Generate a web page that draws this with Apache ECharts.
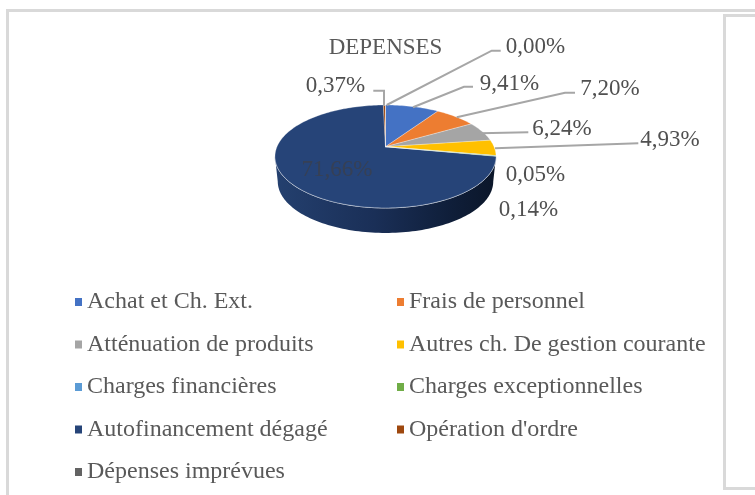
<!DOCTYPE html>
<html>
<head>
<meta charset="utf-8">
<style>html,body{margin:0;padding:0;background:#fff}#c{width:755px;height:495px;filter:blur(0.45px)}</style>
<script src="https://cdn.jsdelivr.net/npm/echarts@6/dist/echarts.min.js"></script>
</head>
<body>
<div id="c"></div>
<script>
const categories = ["Achat et Ch. Ext.","Frais de personnel","Atténuation de produits","Autres ch. De gestion courante","Charges financières","Charges exceptionnelles","Autofinancement dégagé","Opération d'ordre","Dépenses imprévues"];
const values = [9.41,7.20,6.24,4.93,0.05,0.14,71.66,0.37,0.00];
const colors = ["#4472C4","#ED7D31","#A5A5A5","#FFC000","#5B9BD5","#70AD47","#264478","#9E480E","#636363"];
const leftLegend = [0,2,4,6,8].map(i=>categories[i]);
const rightLegend = [1,3,5,7].map(i=>categories[i]);

// Layout (not data)
const FONT = '"Liberation Serif"';
const labelCentres = [[509.5,83.5],[610,89],[562,128.5],[670,139.5],[535.5,174.5],[528.5,209.5],[337,170],[335.5,86],[535.5,47]];
const leaders = [
  [[413,107.3],[464,86.7],[473,86.7]],
  [[456.7,117.3],[565,92.7],[575,92.7]],
  [[480,133.3],[528.3,132.3]],
  [[495,148.3],[638.3,143.3]],
  null,null,null,
  [[384,106],[384,90.7],[373.3,90.7]],
  [[386.7,105],[491.7,50.7],[500.7,50.7]]
];
const P = {cx:385.5, cy:146.7, a:108.5, b:49.6, k:0.19, depth:25, shrink:0.975};

const total = values.reduce((s,v)=>s+v,0);
function startOf(i){let s=0;for(let j=0;j<i;j++)s+=values[j];return s/total*360;}
function proj(deg,shrink,dy){
  const t=deg*Math.PI/180,u=Math.sin(t),v=Math.cos(t),d=1+P.k*v;
  return [P.cx+(shrink||1)*P.a*u/d, P.cy-P.b*v/d+(dy||0)];
}
function arc(from,to,shrink,dy){
  const n=Math.max(1,Math.ceil((to-from)/1.5)),pts=[];
  for(let i=0;i<=n;i++)pts.push(proj(from+(to-from)*i/n,shrink,dy));
  return pts;
}
const wallFrom=Math.acos(-P.k)*180/Math.PI, wallTo=360-wallFrom;

function sliceRender(index){
  return function(params,api){
    const start=startOf(index), end=start+api.value(0)/total*360;
    const kids=[];
    const f=Math.max(start,wallFrom), t=Math.min(end,wallTo);
    if(t>f){
      const up=arc(f,t), low=arc(f,t,P.shrink,P.depth).reverse();
      kids.push({type:'polygon',shape:{points:up.concat(low)},silent:true,
        style:{fill:{type:'linear',x:275,y:0,x2:496,y2:0,global:true,colorStops:[
          {offset:0,color:'#24406f'},{offset:0.45,color:'#1a2f57'},{offset:0.8,color:'#0f1e39'},{offset:1,color:'#0b1629'}]}}});
      kids.push({type:'polyline',shape:{points:up},silent:true,style:{stroke:'#cfd5df',lineWidth:1,fill:null}});
    }
    kids.push({type:'polygon',shape:{points:[[P.cx,P.cy]].concat(arc(start,end))},silent:true,
      style:{fill:colors[index],stroke:'rgba(255,255,255,0.55)',lineWidth:0.5}});
    return {type:'group',children:kids};
  };
}
function labelRender(params,api){
  const i=params.dataIndex,kids=[];
  if(leaders[i])kids.push({type:'polyline',shape:{points:leaders[i]},silent:true,style:{stroke:'#A6A6A6',lineWidth:2,fill:null}});
  kids.push({type:'text',silent:true,style:{
    text:api.value(0).toFixed(2).replace('.',',')+'%',x:labelCentres[i][0],y:labelCentres[i][1],
    align:'center',verticalAlign:'middle',font:'23px '+FONT,fill:i===6?'#364055':'#505050'}});
  return {type:'group',children:kids};
}

const series = categories.map((name,i)=>({
  type:'custom',name,coordinateSystem:'none',data:[[values[i]]],
  itemStyle:{color:colors[i]},renderItem:sliceRender(i),silent:true,animation:false,z:i===6?2:3
}));
series.push({type:'custom',name:'Étiquettes',coordinateSystem:'none',data:values.map(v=>[v]),
  renderItem:labelRender,silent:true,animation:false,z:5});

const legendBase={orient:'vertical',icon:'rect',itemWidth:7,itemHeight:8,selectedMode:false,padding:0,
  itemGap:18.5,textStyle:{fontFamily:FONT,fontSize:24,color:'#595959'}};
const chart=echarts.init(document.getElementById('c'),null,{renderer:'canvas'});
chart.setOption({
  animation:false,
  backgroundColor:'#fff',
  title:{text:'DEPENSES',left:380.5,top:42.5,textAlign:'center',textVerticalAlign:'middle',
    textStyle:{fontFamily:FONT,fontSize:23,fontWeight:'normal',color:'#595959'}},
  legend:[
    Object.assign({},legendBase,{left:75,top:290,data:leftLegend}),
    Object.assign({},legendBase,{left:397,top:290,data:rightLegend})
  ],
  graphic:[
    {type:'polyline',silent:true,shape:{points:[[7.5,495],[7.5,10.5],[755,10.5]]},style:{stroke:'#d9d9d9',lineWidth:3,fill:null}},
    {type:'polyline',silent:true,shape:{points:[[755,15.5],[724.5,15.5],[724.5,488.5],[755,488.5]]},style:{stroke:'#d9d9d9',lineWidth:3,fill:null}}
  ],
  series
});
</script>
</body>
</html>
